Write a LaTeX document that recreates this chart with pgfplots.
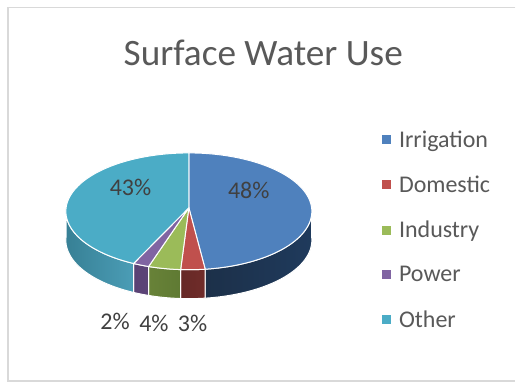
\documentclass[border=0pt]{standalone}
\usepackage{fontspec}
\setmainfont{Carlito}
\usepackage{pgfplots}
\usepackage{pgfplotstable}
\pgfplotsset{compat=1.18}

\definecolor{irrigation}{HTML}{4F81BD}
\definecolor{domestic}{HTML}{C0504D}
\definecolor{industry}{HTML}{9BBB59}
\definecolor{power}{HTML}{8064A2}
\definecolor{other}{HTML}{4BACC6}
\definecolor{irrigationA}{HTML}{1F3A5C}
\definecolor{irrigationB}{HTML}{1C3049}
\definecolor{domesticA}{HTML}{702C2A}
\definecolor{domesticB}{HTML}{662826}
\definecolor{industryA}{HTML}{5F7A33}
\definecolor{industryB}{HTML}{688238}
\definecolor{powerA}{HTML}{5C4478}
\definecolor{powerB}{HTML}{5A4274}
\definecolor{otherA}{HTML}{4B9DB6}
\definecolor{otherB}{HTML}{378095}
\definecolor{framegray}{HTML}{D9D9D9}
\definecolor{titlegray}{HTML}{595959}
\definecolor{labelgray}{HTML}{404040}

% Share of surface water by use, with the position of each percentage label
\pgfplotstableread{
name      value  lx     ly
irrigation 48    249    191
domestic   3     192.7  323.5
industry   4     154    323.5
power      2     115    322
other      43    130.5  187.5
}\usetable

% Pie geometry, in picture units; \persp tilts the disc towards the viewer
\def\cx{189}\def\cy{208}\def\rx{123}\def\ry{58.3}\def\persp{0.06}\def\depth{29}

% Collects the rim between angles #1 and #2 (clockwise from twelve o'clock)
\newcommand\collectrim[2]{%
  \gdef\rimlist{}\gdef\lowerlist{}%
  \pgfmathtruncatemacro\nsteps{max(1,ceil((#2-#1)/2))}%
  \foreach \i in {0,...,\nsteps}{%
    \pgfmathsetmacro\t{#1+(#2-#1)*\i/\nsteps}%
    \pgfmathsetmacro\w{1+\persp*cos(\t)}%
    \pgfmathsetmacro\px{\cx+\rx*sin(\t)/\w}%
    \pgfmathsetmacro\py{\cy-\ry*cos(\t)/\w}%
    \pgfmathsetmacro\pz{\py+\depth}%
    \xdef\rimlist{\rimlist (\px,\py)}%
    \xdef\lowerlist{(\px,\pz) \lowerlist}%
  }%
}

\begin{document}
\begin{tikzpicture}
\begin{axis}[
  scale only axis, width=516pt, height=383pt,
  xmin=0, xmax=516, ymin=0, ymax=383, y dir=reverse,
  hide axis, clip=false,
  title={\fontsize{37.3}{44}\selectfont Surface Water Use},
  title style={at={(rel axis cs:0.5107,0.846)}, anchor=center, text=titlegray, inner sep=0pt},
  legend cell align=left,
  legend style={at={(axis cs:379,127.5)}, anchor=north west, draw=none, fill=none,
    font=\fontsize{24}{28}\selectfont, text=titlegray, row sep=27.2pt, inner sep=3pt,
    /tikz/every odd column/.append style={column sep=9pt},
    nodes={inner sep=0pt, anchor=base west}},
]
% Chart frame: open on the right-hand side
\addplot[white, fill=white, forget plot] coordinates {(0,0) (516,0) (516,383) (0,383) (0,0)};
\addplot[framegray, line width=1.5pt, forget plot] coordinates {(516,7.5) (8,7.5) (8,381.5) (516,381.5)};

% Side walls along the front half of the rim
\gdef\cum{0}
\pgfplotsforeachungrouped \r in {0,...,4}{
  \pgfplotstablegetelem{\r}{name}\of\usetable \edef\nm{\pgfplotsretval}
  \pgfplotstablegetelem{\r}{value}\of\usetable \edef\val{\pgfplotsretval}
  \pgfmathsetmacro\sa{\cum*3.6}
  \pgfmathsetmacro\sb{(\cum+\val)*3.6}
  \pgfmathsetmacro\wa{max(\sa,90)}
  \pgfmathsetmacro\wb{min(\sb,270)}
  \pgfmathparse{\wb>\wa?1:0}
  \ifnum\pgfmathresult=1
    \collectrim{\wa}{\wb}
    % the rim runs clockwise, so along the front it goes from right to left
    \edef\cmd{\noexpand\addplot[left color=\nm B, right color=\nm A, draw=white, line width=1pt, line join=round, forget plot]
      coordinates {\rimlist\space\lowerlist} -- cycle;}
    \cmd
  \fi
  \pgfmathsetmacro\newcum{\cum+\val}
  \xdef\cum{\newcum}
}

% Top faces of the slices
\gdef\cum{0}
\pgfplotsforeachungrouped \r in {0,...,4}{
  \pgfplotstablegetelem{\r}{name}\of\usetable \edef\nm{\pgfplotsretval}
  \pgfplotstablegetelem{\r}{value}\of\usetable \edef\val{\pgfplotsretval}
  \pgfmathsetmacro\sa{\cum*3.6}
  \pgfmathsetmacro\sb{(\cum+\val)*3.6}
  \collectrim{\sa}{\sb}
  \edef\cmd{\noexpand\addplot[fill=\nm, draw=white, line width=1pt, line join=round, forget plot]
    coordinates {(\cx,\cy) \rimlist} -- cycle;}
  \cmd
  \pgfmathsetmacro\newcum{\cum+\val}
  \xdef\cum{\newcum}
}

% Percentage labels
\pgfplotsforeachungrouped \r in {0,...,4}{
  \pgfplotstablegetelem{\r}{value}\of\usetable \edef\val{\pgfplotsretval}
  \pgfplotstablegetelem{\r}{lx}\of\usetable \edef\lx{\pgfplotsretval}
  \pgfplotstablegetelem{\r}{ly}\of\usetable \edef\ly{\pgfplotsretval}
  \edef\cmd{\noexpand\node[text=labelgray, font=\noexpand\fontsize{24}{28}\noexpand\selectfont, inner sep=0pt]
    at (axis cs:\lx,\ly) {\val\noexpand\%};}
  \cmd
}

% Legend swatches
\addlegendimage{legend image code/.code={\fill[irrigation] (0pt,4pt) rectangle (8pt,12pt);}}
\addlegendimage{legend image code/.code={\fill[domestic] (0pt,4pt) rectangle (8pt,12pt);}}
\addlegendimage{legend image code/.code={\fill[industry] (0pt,4pt) rectangle (8pt,12pt);}}
\addlegendimage{legend image code/.code={\fill[power] (0pt,4pt) rectangle (8pt,12pt);}}
\addlegendimage{legend image code/.code={\fill[other] (0pt,4pt) rectangle (8pt,12pt);}}
\legend{Irrigation,Domestic,Industry,Power,Other}
\end{axis}
\end{tikzpicture}
\end{document}
